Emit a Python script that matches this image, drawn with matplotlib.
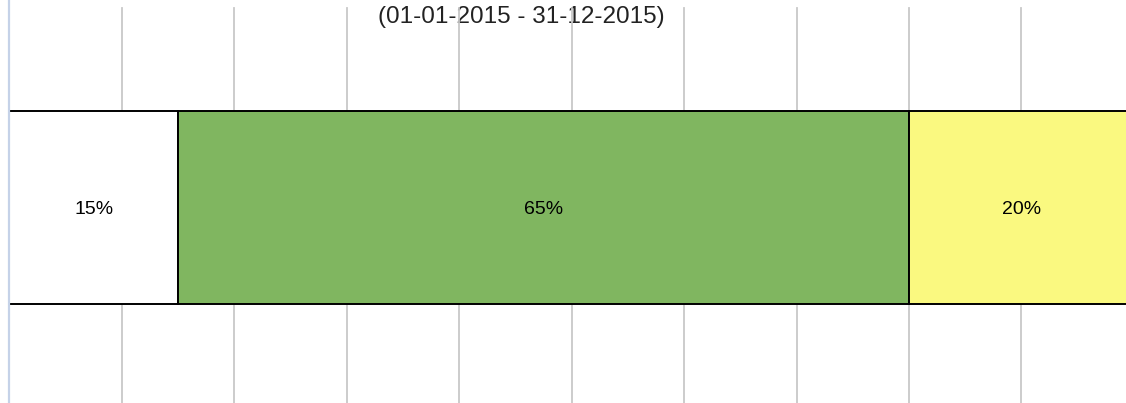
import matplotlib
matplotlib.use("Agg")
import matplotlib.pyplot as plt

plt.rcParams['font.family'] = ['Liberation Sans', 'DejaVu Sans']

categories = ["A", "B", "C"]
values = [15, 65, 20]
labels = ["15%", "65%", "20%"]
colors = ["#ffffff", "#80b660", "#faf980"]
title = "(01-01-2015 - 31-12-2015)"
grid_ticks = [10, 20, 30, 40, 50, 60, 70, 80, 90, 100]

W, H = 1126, 403
fig = plt.figure(figsize=(W / 100, H / 100), dpi=100)
x0 = 9.3
span = 1124.6
ax = fig.add_axes([x0 / W, 0, span / W, 1])
ax.set_xlim(0, 100)
ax.set_ylim(0, 1)
ax.axis('off')

# gridlines
for t in grid_ticks:
    ax.axvline(t, ymin=0, ymax=1 - 8 / H, color="#c8c8c8", lw=1.3, zorder=1)

# stacked bar
bar_bottom = 1 - 304 / H
bar_top = 1 - 111 / H
left = 0
for v, lab, c in zip(values, labels, colors):
    ax.barh((bar_bottom + bar_top) / 2, v, left=left, height=bar_top - bar_bottom,
            color=c, edgecolor="black", linewidth=1.4, zorder=2)
    ax.text(left + v / 2, (bar_bottom + bar_top) / 2 - 1.5 / H, lab,
            ha="center", va="center", fontsize=14, color="#000000", zorder=3)
    left += v

# left axis line
ax.axvline(0, ymin=0, ymax=1, color="#c5d2e8", lw=1.6, zorder=4, clip_on=False)

# title (partially cut off at top)
ax.text((521 - x0) / span * 100, 1 - 23 / H, title, ha="center", va="baseline",
        fontsize=17.5, color="#222222", zorder=0.5)

fig.savefig("out.png", dpi=100)
